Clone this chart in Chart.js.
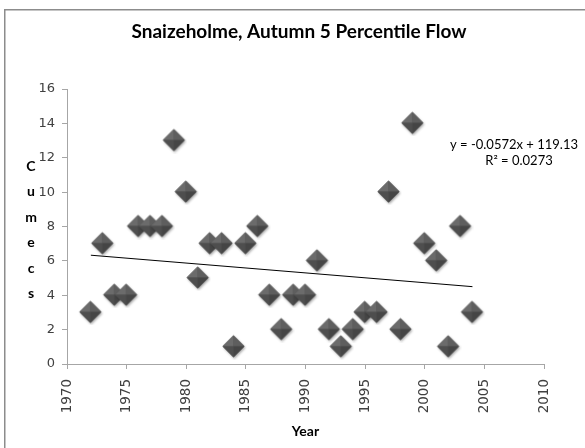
<!DOCTYPE html>
<html>
<head>
<meta charset="utf-8">
<script src="https://cdn.jsdelivr.net/npm/chart.js@4.4.0/dist/chart.umd.min.js"></script>
<style>
  html, body { margin: 0; padding: 0; background: #ffffff; }
  #wrap { width: 585px; height: 448px; position: relative; }
</style>
</head>
<body>
<div id="wrap"><canvas id="c" width="585" height="448"></canvas></div>
<script>
// ---- Data ----
const years = [1972, 1973, 1974, 1975, 1976, 1977, 1978, 1979, 1980, 1981, 1982,
               1983, 1984, 1985, 1986, 1987, 1988, 1989, 1990, 1991, 1992, 1993,
               1994, 1995, 1996, 1997, 1998, 1999, 2000, 2001, 2002, 2003, 2004];
const flows = [3, 7, 4, 4, 8, 8, 8, 13, 10, 5, 7,
               7, 1, 7, 8, 4, 2, 4, 4, 6, 2, 1,
               2, 3, 3, 10, 2, 14, 7, 6, 1, 8, 3];
const trendYears = [1972, 2004];
const trendValues = [6.33, 4.50];
const xTicks = [1970, 1975, 1980, 1985, 1990, 1995, 2000, 2005, 2010];
const yTicks = [0, 2, 4, 6, 8, 10, 12, 14, 16];
const titleText = 'Snaizeholme, Autumn 5 Percentile Flow';
const xTitle = 'Year';
const yTitleLetters = ['C', 'u', 'm', 'e', 'c', 's'];
const equationLines = ['y = -0.0572x + 119.13', 'R\u00B2 = 0.0273'];

// ---- Diamond marker image ----
function makeDiamond() {
  const s = 26, c = document.createElement('canvas');
  c.width = s; c.height = s;
  const g = c.getContext('2d');
  const cx = 12.5, cy = 12.5, r = 11;
  g.save();
  g.shadowColor = 'rgba(0,0,0,0.35)';
  g.shadowBlur = 2.5;
  g.shadowOffsetX = 1;
  g.shadowOffsetY = 1.5;
  g.beginPath();
  g.moveTo(cx, cy - r); g.lineTo(cx + r, cy); g.lineTo(cx, cy + r); g.lineTo(cx - r, cy); g.closePath();
  g.fillStyle = '#555555';
  g.fill();
  g.restore();
  const facets = [
    [[cx, cy - r], [cx - r, cy], [cx, cy], '#6b6b6b'],
    [[cx, cy - r], [cx + r, cy], [cx, cy], '#5e5e5e'],
    [[cx - r, cy], [cx, cy + r], [cx, cy], '#4e4e4e'],
    [[cx + r, cy], [cx, cy + r], [cx, cy], '#454545']
  ];
  facets.forEach(f => {
    g.beginPath();
    g.moveTo(f[0][0], f[0][1]); g.lineTo(f[1][0], f[1][1]); g.lineTo(f[2][0], f[2][1]); g.closePath();
    g.fillStyle = f[3];
    g.fill();
  });
  return c;
}
const diamond = makeDiamond();

const points = years.map((y, i) => ({ x: y, y: flows[i] }));
const trend = trendYears.map((y, i) => ({ x: y, y: trendValues[i] }));

const decorPlugin = {
  id: 'decor',
  beforeDraw(chart) {
    const ctx = chart.ctx;
    ctx.save();
    ctx.fillStyle = '#ffffff';
    ctx.fillRect(0, 0, chart.width, chart.height);
    ctx.strokeStyle = '#8c8c8c';
    ctx.lineWidth = 1.5;
    ctx.strokeRect(4.75, 9.75, 700, 600);
    ctx.restore();
  },
  afterDraw(chart) {
    const ctx = chart.ctx;
    ctx.save();
    // chart title
    ctx.fillStyle = '#000000';
    ctx.font = 'bold 19px Lato';
    ctx.textAlign = 'center';
    ctx.textBaseline = 'alphabetic';
    ctx.fillText(titleText, 299, 38);
    // vertical stacked y-axis title
    ctx.font = 'bold 14px Lato';
    ctx.textBaseline = 'middle';
    const yStart = 166, yStep = 25.5;
    yTitleLetters.forEach((ch, i) => ctx.fillText(ch, 31, yStart + i * yStep));
    // trendline equation
    ctx.font = '13px Lato';
    ctx.fillText(equationLines[0], 514, 145);
    ctx.fillText(equationLines[1], 519, 161);
    ctx.restore();
  }
};

new Chart(document.getElementById('c'), {
  type: 'scatter',
  data: {
    datasets: [
      {
        label: 'Flow',
        data: points,
        pointStyle: diamond,
        pointRadius: 11,
        pointHoverRadius: 11,
        order: 2
      },
      {
        type: 'line',
        label: 'Trend',
        data: trend,
        borderColor: '#000000',
        borderWidth: 1,
        pointRadius: 0,
        fill: false,
        order: 1
      }
    ]
  },
  options: {
    responsive: false,
    animation: false,
    devicePixelRatio: 1,
    layout: { padding: { left: 0, right: 41, top: 89, bottom: 0 } },
    plugins: {
      legend: { display: false },
      tooltip: { enabled: false },
      title: { display: false }
    },
    scales: {
      x: {
        type: 'linear',
        min: 1970, max: 2010,
        afterBuildTicks(axis) { axis.ticks = xTicks.map(v => ({ value: v })); },
        afterFit(axis) { axis.height = 84; },
        ticks: {
          minRotation: 90, maxRotation: 90,
          color: '#404040',
          font: { family: 'DejaVu Sans', size: 13.5 },
          padding: 10,
          callback: v => String(v)
        },
        grid: { display: true, drawOnChartArea: false, drawTicks: true, tickLength: 5, color: '#a6a6a6' },
        border: { display: true, color: '#a6a6a6', width: 1 },
        title: {
          display: true, text: xTitle, color: '#000000',
          font: { family: 'Lato', size: 14, weight: 'bold' },
          padding: { top: 0, bottom: 8.6 }
        }
      },
      y: {
        type: 'linear',
        min: 0, max: 16,
        afterBuildTicks(axis) { axis.ticks = yTicks.map(v => ({ value: v })); },
        afterFit(axis) { axis.width = 67; },
        ticks: {
          color: '#404040',
          font: { family: 'DejaVu Sans', size: 13 },
          padding: 7
        },
        grid: { display: true, drawOnChartArea: false, drawTicks: true, tickLength: 5, color: '#a6a6a6' },
        border: { display: true, color: '#a6a6a6', width: 1 }
      }
    }
  },
  plugins: [decorPlugin]
});
</script>
</body>
</html>
